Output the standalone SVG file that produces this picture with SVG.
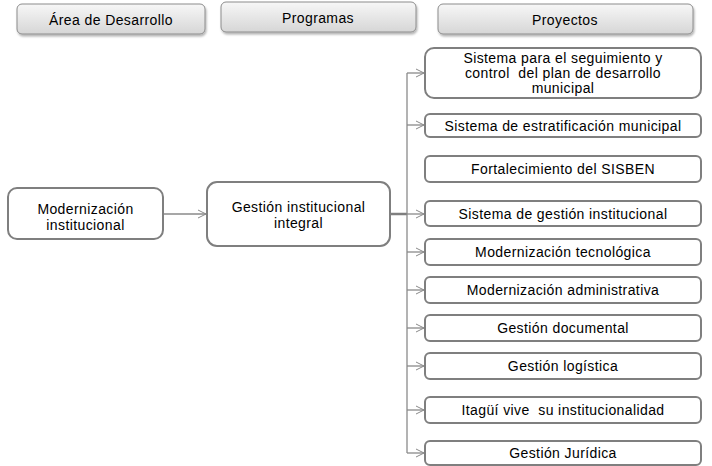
<svg xmlns="http://www.w3.org/2000/svg" width="712" height="466" viewBox="0 0 712 466">
<defs>
<linearGradient id="hg" x1="0" y1="0" x2="0" y2="1">
<stop offset="0" stop-color="#f7f7f7"/>
<stop offset="1" stop-color="#d6d6d6"/>
</linearGradient>
<filter id="sh" x="-10%" y="-20%" width="120%" height="160%">
<feDropShadow dx="1" dy="2" stdDeviation="1.2" flood-color="#000" flood-opacity="0.3"/>
</filter>
<marker id="ah" markerWidth="10" markerHeight="10" refX="9" refY="5" orient="auto" markerUnits="userSpaceOnUse">
<path d="M1,1 L9,5 L1,9" fill="none" stroke="#8a8a8a" stroke-width="1"/>
</marker>
<style>
.hdr{fill:url(#hg);stroke:#8c8c8c;stroke-width:1;filter:url(#sh)}
.box{fill:#fff;stroke:#7f7f7f;stroke-width:2}
.t{font-family:"Liberation Sans",Arial,sans-serif;font-size:14px;letter-spacing:0.4px;fill:#000;text-anchor:middle}
.c{fill:none;stroke:#8a8a8a;stroke-width:1.3}
</style>
</defs>
<g id="hdr-area"><rect class="hdr" x="17" y="4" width="188" height="30" rx="5"/><text class="t" x="111" y="24.5">Área de Desarrollo</text></g>
<g id="hdr-programas"><rect class="hdr" x="221" y="2" width="195" height="30" rx="5"/><text class="t" x="318" y="22.5">Programas</text></g>
<g id="hdr-proyectos"><rect class="hdr" x="438" y="4" width="255" height="30" rx="5"/><text class="t" x="565" y="25">Proyectos</text></g>

<g id="connectors">
<line class="c" x1="163" y1="214" x2="206" y2="214" marker-end="url(#ah)"/>
<line x1="390" y1="214" x2="407" y2="214" stroke="#7f7f7f" stroke-width="2.5"/>
<line class="c" x1="407" y1="73" x2="407" y2="453"/>
<line class="c" x1="407" y1="73" x2="424" y2="73" marker-end="url(#ah)"/>
<line class="c" x1="407" y1="125" x2="424" y2="125" marker-end="url(#ah)"/>
<line class="c" x1="407" y1="214" x2="424" y2="214" marker-end="url(#ah)"/>
<line class="c" x1="407" y1="252" x2="424" y2="252" marker-end="url(#ah)"/>
<line class="c" x1="407" y1="290" x2="424" y2="290" marker-end="url(#ah)"/>
<line class="c" x1="407" y1="328" x2="424" y2="328" marker-end="url(#ah)"/>
<line class="c" x1="407" y1="366" x2="424" y2="366" marker-end="url(#ah)"/>
<line class="c" x1="407" y1="410" x2="424" y2="410" marker-end="url(#ah)"/>
<line class="c" x1="407" y1="453" x2="424" y2="453" marker-end="url(#ah)"/>
</g>

<g id="n-modernizacion"><rect class="box" x="8" y="188" width="155" height="51" rx="9"/><text class="t" x="85.5" y="214">Modernización</text><text class="t" x="85.5" y="230">institucional</text></g>
<g id="n-gestion"><rect class="box" x="207" y="182" width="183" height="64" rx="10"/><text class="t" x="298.5" y="212">Gestión institucional</text><text class="t" x="298.5" y="228">integral</text></g>

<g id="p1"><rect class="box" x="425" y="48" width="276" height="50" rx="9"/><text class="t" x="563" y="63">Sistema para el seguimiento y</text><text class="t" x="563" y="78" xml:space="preserve">control  del plan de desarrollo</text><text class="t" x="563" y="93">municipal</text></g>
<g id="p2"><rect class="box" x="425" y="114" width="276" height="23" rx="5"/><text class="t" x="563" y="130.5">Sistema de estratificación municipal</text></g>
<g id="p3"><rect class="box" x="425" y="156" width="276" height="26" rx="5"/><text class="t" x="563" y="174">Fortalecimiento del SISBEN</text></g>
<g id="p4"><rect class="box" x="425" y="201" width="276" height="25" rx="5"/><text class="t" x="563" y="218.5">Sistema de gestión institucional</text></g>
<g id="p5"><rect class="box" x="425" y="239" width="276" height="26" rx="5"/><text class="t" x="563" y="257">Modernización tecnológica</text></g>
<g id="p6"><rect class="box" x="425" y="277" width="276" height="26" rx="5"/><text class="t" x="563" y="295">Modernización administrativa</text></g>
<g id="p7"><rect class="box" x="425" y="315" width="276" height="26" rx="5"/><text class="t" x="563" y="333">Gestión documental</text></g>
<g id="p8"><rect class="box" x="425" y="353" width="276" height="26" rx="5"/><text class="t" x="563" y="371">Gestión logística</text></g>
<g id="p9"><rect class="box" x="425" y="397" width="276" height="26" rx="5"/><text class="t" x="563" y="415" xml:space="preserve">Itagüí vive  su institucionalidad</text></g>
<g id="p10"><rect class="box" x="425" y="441" width="276" height="24" rx="5"/><text class="t" x="563" y="458">Gestión Jurídica</text></g>
</svg>
